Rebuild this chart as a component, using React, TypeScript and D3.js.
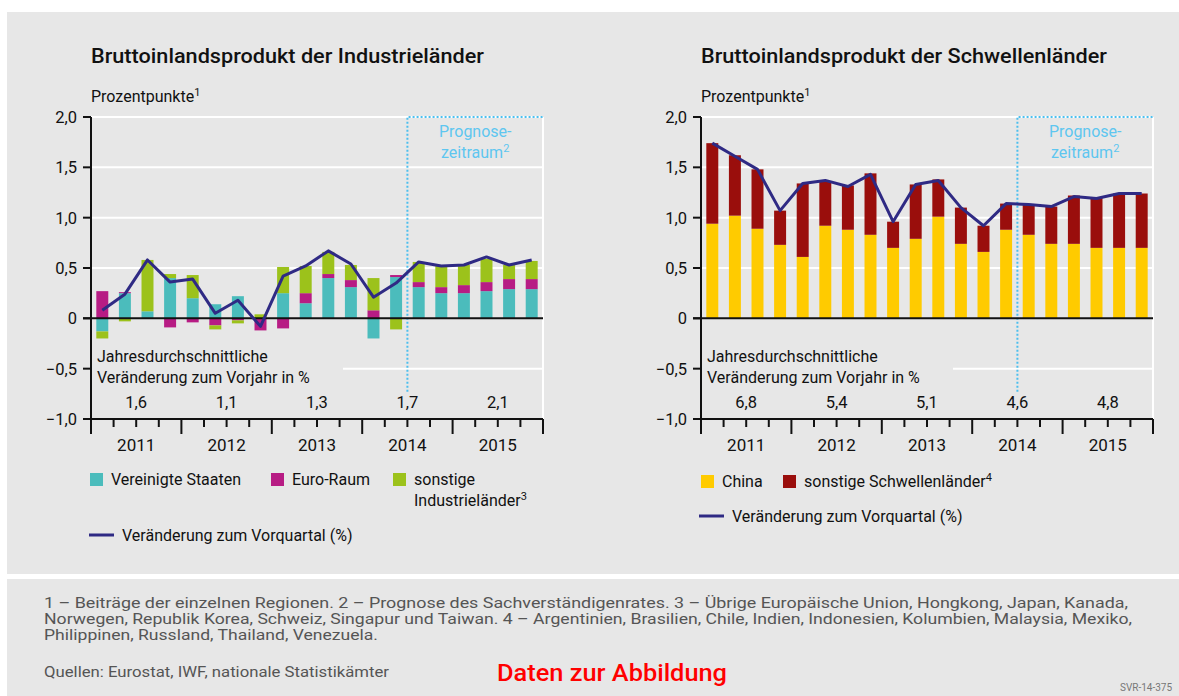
import React from "react";
import * as d3 from "d3";

// quarters 2011Q1 .. 2015Q4
const quarters = [
  "2011Q1", "2011Q2", "2011Q3", "2011Q4",
  "2012Q1", "2012Q2", "2012Q3", "2012Q4",
  "2013Q1", "2013Q2", "2013Q3", "2013Q4",
  "2014Q1", "2014Q2", "2014Q3", "2014Q4",
  "2015Q1", "2015Q2", "2015Q3", "2015Q4",
];
const years = ["2011", "2012", "2013", "2014", "2015"];
const yTicks = [-1, -0.5, 0, 0.5, 1, 1.5, 2];
const forecastStart = "2014Q3";

// Industrieländer, Beiträge in Prozentpunkten
const usContrib = [-0.13, 0.25, 0.07, 0.40, 0.20, 0.14, 0.22, 0.00, 0.25, 0.15, 0.40, 0.31, -0.20, 0.41, 0.31, 0.25, 0.25, 0.27, 0.29, 0.29];
const euroContrib = [0.27, 0.01, 0.00, -0.09, -0.04, -0.07, -0.02, -0.12, -0.10, 0.10, 0.04, 0.07, 0.08, 0.02, 0.05, 0.06, 0.08, 0.09, 0.10, 0.10];
const otherIndContrib = [-0.07, -0.03, 0.51, 0.04, 0.23, -0.04, -0.03, 0.04, 0.26, 0.27, 0.22, 0.15, 0.32, -0.11, 0.20, 0.21, 0.20, 0.23, 0.14, 0.18];
const industrialQoQ = [0.08, 0.24, 0.58, 0.36, 0.39, 0.05, 0.18, -0.08, 0.42, 0.52, 0.67, 0.54, 0.21, 0.35, 0.56, 0.52, 0.53, 0.61, 0.53, 0.58];
const industrialYearly = [1.6, 1.1, 1.3, 1.7, 2.1];

// Schwellenländer
const chinaContrib = [0.94, 1.02, 0.89, 0.73, 0.61, 0.92, 0.88, 0.83, 0.70, 0.79, 1.01, 0.74, 0.66, 0.88, 0.83, 0.74, 0.74, 0.70, 0.70, 0.70];
const otherEmContrib = [0.80, 0.60, 0.59, 0.34, 0.73, 0.44, 0.44, 0.61, 0.26, 0.54, 0.37, 0.36, 0.26, 0.26, 0.30, 0.37, 0.48, 0.50, 0.54, 0.54];
const emergingQoQ = [1.74, 1.61, 1.48, 1.07, 1.34, 1.37, 1.31, 1.43, 0.96, 1.33, 1.37, 1.10, 0.92, 1.14, 1.13, 1.11, 1.21, 1.19, 1.24, 1.24];
const emergingYearly = [6.8, 5.4, 5.1, 4.6, 4.8];

const FONT = "Roboto, 'Liberation Sans', sans-serif";
const BG = "#e7e7e7";
const LINE_COLOR = "#2f2a84";
const FORECAST_COLOR = "#4cbfee";

const de = d3.formatLocale({ decimal: ",", thousands: ".", grouping: [3], currency: ["", " €"] });
const fmt1 = de.format(".1f");
const tickFmt = (v: number) => (v === 0 ? "0" : fmt1(v));

type Series = { key: string; label: string[]; color: string; values: number[]; legendX: number; sup?: string };

function Panel(props: {
  x0: number;
  title: string;
  titleWidth: number;
  series: Series[];
  qoq: number[];
  yearly: number[];
  legendY: number;
  lineLegendY: number;
}) {
  const { x0, title, titleWidth, series, qoq, yearly, legendY, lineLegendY } = props;
  const width = 452;
  const x1 = x0 + width;

  const y = d3.scaleLinear().domain([-1, 2]).range([419, 117]);
  const x = d3.scaleBand<string>().domain(quarters).range([x0, x1]).paddingInner(0.47).paddingOuter(0.235);
  const step = x.step();
  const cx = (q: string) => (x(q) as number) + x.bandwidth() / 2;

  const rows = quarters.map((q, i) => {
    const r: any = { q };
    series.forEach(s => (r[s.key] = s.values[i]));
    return r;
  });
  const stacked = d3.stack().keys(series.map(s => s.key)).offset(d3.stackOffsetDiverging)(rows);

  const line = d3.line<number>().x((_, i) => cx(quarters[i])).y(d => y(d));
  const fx = x0 + quarters.indexOf(forecastStart) * step;

  return (
    <g fontFamily={FONT}>
      <text x={x0} y={63} fontSize={20} fontWeight={500} fill="#111" textLength={titleWidth} lengthAdjust="spacingAndGlyphs">
        {title}
      </text>
      <text x={x0} y={102} fontSize={16} fill="#111">
        Prozentpunkte<tspan dy={-6} fontSize={11}>1</tspan>
      </text>

      {/* gridlines */}
      {[0.5, 1, 1.5, 2].map(v => (
        <line key={v} x1={x0} x2={x1} y1={y(v)} y2={y(v)} stroke="#fff" strokeWidth={2} />
      ))}
      <line x1={x0 + 252} x2={x1} y1={y(-0.5)} y2={y(-0.5)} stroke="#fff" strokeWidth={2} />
      <line x1={x1} x2={x1} y1={y(2)} y2={y(-1)} stroke="#fff" strokeWidth={2} />

      {/* bars */}
      {stacked.map((layer, li) => (
        <g key={layer.key} fill={series[li].color}>
          {layer.map((d, i) => (
            <rect key={i} x={x(quarters[i])} width={x.bandwidth()} y={y(Math.max(d[0], d[1]))} height={Math.abs(y(d[0]) - y(d[1]))} />
          ))}
        </g>
      ))}

      {/* forecast box */}
      <path
        d={`M${fx},${y(-0.73)}V${y(2)}H${x1}`}
        fill="none"
        stroke={FORECAST_COLOR}
        strokeWidth={2}
        strokeDasharray="2,2"
      />
      <text x={(fx + x1) / 2} y={137} fontSize={16} fill="#5ec6f0" textAnchor="middle">Prognose-</text>
      <text x={(fx + x1) / 2} y={158} fontSize={16} fill="#5ec6f0" textAnchor="middle">
        zeitraum<tspan dy={-6} fontSize={11}>2</tspan>
      </text>

      {/* zero line */}
      <line x1={x0 - 8} x2={x1} y1={y(0)} y2={y(0)} stroke="#111" strokeWidth={2} />

      {/* line */}
      <path d={line(qoq) || ""} fill="none" stroke={LINE_COLOR} strokeWidth={3} strokeLinejoin="round" />

      {/* y axis */}
      <line x1={x0} x2={x0} y1={y(2)} y2={434} stroke="#111" strokeWidth={2} />
      {yTicks.map(v => (
        <g key={v}>
          <line x1={x0 - 8} x2={x0} y1={y(v)} y2={y(v)} stroke="#111" strokeWidth={2} />
          <text x={x0 - 14} y={y(v) + 6} fontSize={16.5} fill="#111" textAnchor="end">{tickFmt(v)}</text>
        </g>
      ))}

      {/* x axis */}
      <line x1={x0} x2={x1} y1={y(-1)} y2={y(-1)} stroke="#111" strokeWidth={2} />
      {d3.range(quarters.length + 1).map(i => (
        <line key={i} x1={x0 + i * step} x2={x0 + i * step} y1={y(-1)} y2={y(-1) + (i % 4 === 0 ? 15 : 8)} stroke="#111" strokeWidth={2} />
      ))}
      {years.map((yr, i) => (
        <text key={yr} x={x0 + (i * 4 + 2) * step} y={451} fontSize={17} fill="#111" textAnchor="middle">{yr}</text>
      ))}

      {/* annual averages */}
      <text x={x0 + 6} y={362} fontSize={16} fill="#111">Jahresdurchschnittliche</text>
      <text x={x0 + 6} y={383} fontSize={16} fill="#111">Veränderung zum Vorjahr in %</text>
      {yearly.map((v, i) => (
        <text key={i} x={x0 + (i * 4 + 2) * step} y={408} fontSize={16.5} fill="#111" textAnchor="middle">{fmt1(v)}</text>
      ))}

      {/* legend */}
      {series.map(s => (
        <g key={s.key}>
          <rect x={x0 + s.legendX} y={legendY} width={13} height={13} fill={s.color} />
          {s.label.map((l, k) => (
            <text key={k} x={x0 + s.legendX + 21} y={legendY + 12 + k * 21} fontSize={16} fill="#111">
              {l}
              {k === s.label.length - 1 && s.sup ? <tspan dy={-6} fontSize={11}>{s.sup}</tspan> : null}
            </text>
          ))}
        </g>
      ))}
      <line x1={x0 - 2} x2={x0 + 23} y1={lineLegendY} y2={lineLegendY} stroke={LINE_COLOR} strokeWidth={3} />
      <text x={x0 + 31} y={lineLegendY + 6} fontSize={16} fill="#111">Veränderung zum Vorquartal (%)</text>
    </g>
  );
}

export default function App() {
  const industrial: Series[] = [
    { key: "us", label: ["Vereinigte Staaten"], color: "#4bbcbc", values: usContrib, legendX: -1 },
    { key: "euro", label: ["Euro-Raum"], color: "#b71c84", values: euroContrib, legendX: 180 },
    { key: "other", label: ["sonstige", "Industrieländer"], sup: "3", color: "#9cc21b", values: otherIndContrib, legendX: 302 },
  ];
  const emerging: Series[] = [
    { key: "china", label: ["China"], color: "#ffcb00", values: chinaContrib, legendX: 0 },
    { key: "otherEm", label: ["sonstige Schwellenländer"], sup: "4", color: "#9a0e0c", values: otherEmContrib, legendX: 82 },
  ];

  const foot = { fontFamily: FONT, fontSize: 15, fill: "#555" };

  return (
    <svg width={1179} height={696} style={{ position: "absolute", left: 0, top: 0, background: "#fff" }}>
      <rect x={7} y={12} width={1172} height={562} fill={BG} />
      <rect x={7} y={579} width={1172} height={117} fill={BG} />

      <Panel x0={91} title="Bruttoinlandsprodukt der Industrieländer" titleWidth={393} series={industrial}
        qoq={industrialQoQ} yearly={industrialYearly} legendY={473} lineLegendY={535} />
      <Panel x0={701} title="Bruttoinlandsprodukt der Schwellenländer" titleWidth={406} series={emerging}
        qoq={emergingQoQ} yearly={emergingYearly} legendY={475} lineLegendY={516} />

      <text x={44} y={608} {...foot} textLength={1084} lengthAdjust="spacingAndGlyphs">
        1 – Beiträge der einzelnen Regionen.  2 – Prognose des Sachverständigenrates.  3 – Übrige Europäische Union, Hongkong, Japan, Kanada,
      </text>
      <text x={44} y={624} {...foot} textLength={1088} lengthAdjust="spacingAndGlyphs">
        Norwegen, Republik Korea, Schweiz, Singapur und Taiwan.  4 – Argentinien, Brasilien, Chile, Indien, Indonesien, Kolumbien, Malaysia, Mexiko,
      </text>
      <text x={44} y={640} {...foot} textLength={334} lengthAdjust="spacingAndGlyphs">
        Philippinen, Russland, Thailand, Venezuela.
      </text>
      <text x={44} y={677} {...foot} textLength={345} lengthAdjust="spacingAndGlyphs">
        Quellen: Eurostat, IWF, nationale Statistikämter
      </text>
      <text x={497} y={681} fontFamily={FONT} fontSize={23} fontWeight={500} fill="#ff0000" textLength={230} lengthAdjust="spacingAndGlyphs">
        Daten zur Abbildung
      </text>
      <text x={1120} y={691} fontFamily={FONT} fontSize={10} fill="#777">SVR-14-375</text>
    </svg>
  );
}
